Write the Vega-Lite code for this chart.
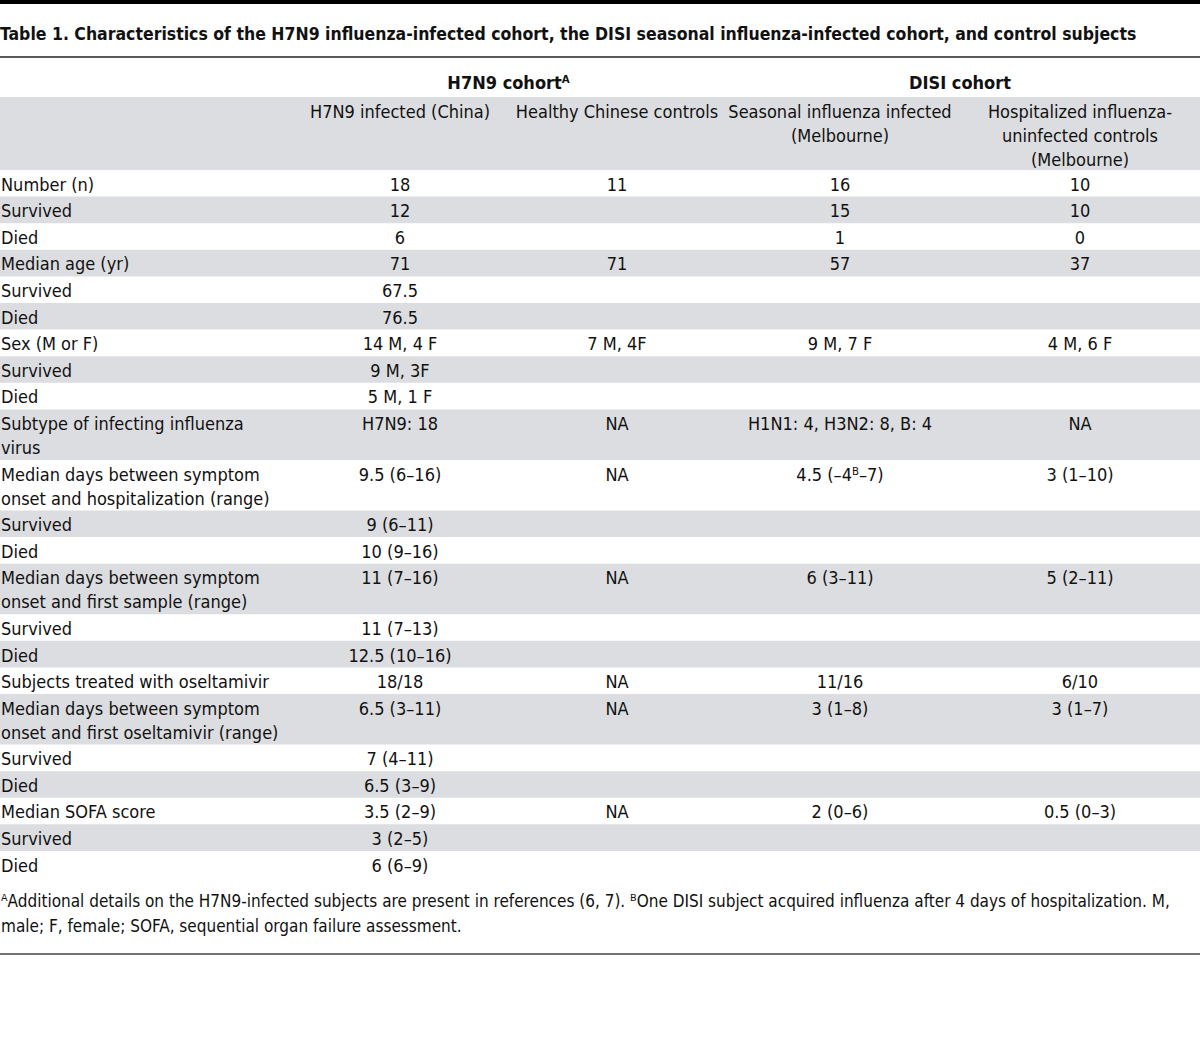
{
  "$schema": "https://vega.github.io/schema/vega-lite/v6.json",
  "width": 1200,
  "height": 1040,
  "autosize": {"type": "none"},
  "padding": 0,
  "background": "white",
  "config": {
    "view": {"stroke": null},
    "text": {"font": "Liberation Sans Narrow, DejaVu Sans Condensed, sans-serif", "fontSize": 18, "color": "#111111"}
  },
  "datasets": {
    "body": [
      {"row": 1, "label": "Number (n)", "a": "18", "b": "11", "c": "16", "d": "10"},
      {"row": 2, "label": "Survived", "a": "12", "b": "", "c": "15", "d": "10"},
      {"row": 3, "label": "Died", "a": "6", "b": "", "c": "1", "d": "0"},
      {"row": 4, "label": "Median age (yr)", "a": "71", "b": "71", "c": "57", "d": "37"},
      {"row": 5, "label": "Survived", "a": "67.5", "b": "", "c": "", "d": ""},
      {"row": 6, "label": "Died", "a": "76.5", "b": "", "c": "", "d": ""},
      {"row": 7, "label": "Sex (M or F)", "a": "14 M, 4 F", "b": "7 M, 4F", "c": "9 M, 7 F", "d": "4 M, 6 F"},
      {"row": 8, "label": "Survived", "a": "9 M, 3F", "b": "", "c": "", "d": ""},
      {"row": 9, "label": "Died", "a": "5 M, 1 F", "b": "", "c": "", "d": ""},
      {"row": 10, "label": "Subtype of infecting influenza\nvirus", "a": "H7N9: 18", "b": "NA", "c": "H1N1: 4, H3N2: 8, B: 4", "d": "NA"},
      {"row": 11, "label": "Median days between symptom\nonset and hospitalization (range)", "a": "9.5 (6–16)", "b": "NA", "c": "4.5 (–4ᴮ–7)", "d": "3 (1–10)"},
      {"row": 12, "label": "Survived", "a": "9 (6–11)", "b": "", "c": "", "d": ""},
      {"row": 13, "label": "Died", "a": "10 (9–16)", "b": "", "c": "", "d": ""},
      {"row": 14, "label": "Median days between symptom\nonset and first sample (range)", "a": "11 (7–16)", "b": "NA", "c": "6 (3–11)", "d": "5 (2–11)"},
      {"row": 15, "label": "Survived", "a": "11 (7–13)", "b": "", "c": "", "d": ""},
      {"row": 16, "label": "Died", "a": "12.5 (10–16)", "b": "", "c": "", "d": ""},
      {"row": 17, "label": "Subjects treated with oseltamivir", "a": "18/18", "b": "NA", "c": "11/16", "d": "6/10"},
      {"row": 18, "label": "Median days between symptom\nonset and first oseltamivir (range)", "a": "6.5 (3–11)", "b": "NA", "c": "3 (1–8)", "d": "3 (1–7)"},
      {"row": 19, "label": "Survived", "a": "7 (4–11)", "b": "", "c": "", "d": ""},
      {"row": 20, "label": "Died", "a": "6.5 (3–9)", "b": "", "c": "", "d": ""},
      {"row": 21, "label": "Median SOFA score", "a": "3.5 (2–9)", "b": "NA", "c": "2 (0–6)", "d": "0.5 (0–3)"},
      {"row": 22, "label": "Survived", "a": "3 (2–5)", "b": "", "c": "", "d": ""},
      {"row": 23, "label": "Died", "a": "6 (6–9)", "b": "", "c": "", "d": ""}
    ],
    "groups": [
      {"g": "H7N9 cohortᴬ", "c": 1.5},
      {"g": "DISI cohort", "c": 3.5}
    ],
    "heads": [
      {"h": "H7N9 infected (China)", "c": 1},
      {"h": "Healthy Chinese controls", "c": 2},
      {"h": "Seasonal influenza infected\n(Melbourne)", "c": 3},
      {"h": "Hospitalized influenza-\nuninfected controls\n(Melbourne)", "c": 4}
    ],
    "title": [
      {"t": "Table 1. Characteristics of the H7N9 influenza-infected cohort, the DISI seasonal influenza-infected cohort, and control subjects"}
    ],
    "notes": [
      {"f": "ᴬAdditional details on the H7N9-infected subjects are present in references (6, 7). ᴮOne DISI subject acquired influenza after 4 days of hospitalization. M,\nmale; F, female; SOFA, sequential organ failure assessment."}
    ]
  },
  "layer": [
    {
      "data": {"values": [{}]},
      "mark": {"type": "rule", "strokeWidth": 4, "color": "#000000"},
      "encoding": {
        "y": {"datum": -6.316, "type": "quantitative", "scale": {"domain": [-6.391, 32.707], "reverse": true, "nice": false, "zero": false}, "axis": null}
      }
    },
    {
      "data": {"name": "title"},
      "mark": {"type": "text", "align": "left", "baseline": "alphabetic", "fontWeight": "bold", "fontSize": 17.5},
      "encoding": {
        "x": {"datum": 0, "type": "quantitative", "scale": {"domain": [0, 1, 2, 3, 4, 5], "range": [0, 400, 617, 840, 1080, 1200], "nice": false, "zero": false}, "axis": null},
        "y": {"datum": -4.887, "type": "quantitative", "scale": {"domain": [-6.391, 32.707], "reverse": true, "nice": false, "zero": false}, "axis": null},
        "text": {"field": "t"}
      }
    },
    {
      "data": {"values": [{}]},
      "mark": {"type": "rule", "strokeWidth": 1.5, "color": "#222222"},
      "encoding": {
        "y": {"datum": -4.248, "type": "quantitative", "scale": {"domain": [-6.391, 32.707], "reverse": true, "nice": false, "zero": false}, "axis": null}
      }
    },
    {
      "data": {"name": "groups"},
      "mark": {"type": "text", "align": "center", "baseline": "alphabetic", "fontWeight": "bold"},
      "encoding": {
        "x": {"field": "c", "type": "quantitative", "scale": {"domain": [0, 1, 2, 3, 4, 5], "range": [0, 400, 617, 840, 1080, 1200], "nice": false, "zero": false}, "axis": null},
        "y": {"datum": -3.045, "type": "quantitative", "scale": {"domain": [-6.391, 32.707], "reverse": true, "nice": false, "zero": false}, "axis": null},
        "text": {"field": "g"}
      }
    },
    {
      "data": {"values": [{}]},
      "mark": {"type": "rect", "color": "#dcdde0"},
      "encoding": {
        "x": {"datum": 0, "type": "quantitative", "scale": {"domain": [0, 1, 2, 3, 4, 5], "range": [0, 400, 617, 840, 1080, 1200], "nice": false, "zero": false}, "axis": null},
        "x2": {"datum": 5},
        "y": {"datum": -2.744, "type": "quantitative", "scale": {"domain": [-6.391, 32.707], "reverse": true, "nice": false, "zero": false}, "axis": null},
        "y2": {"datum": 0}
      }
    },
    {
      "data": {"name": "heads"},
      "mark": {"type": "text", "align": "center", "baseline": "alphabetic", "lineBreak": "\n", "lineHeight": 24},
      "encoding": {
        "x": {"field": "c", "type": "quantitative", "scale": {"domain": [0, 1, 2, 3, 4, 5], "range": [0, 400, 617, 840, 1080, 1200], "nice": false, "zero": false}, "axis": null},
        "y": {"datum": -1.955, "type": "quantitative", "scale": {"domain": [-6.391, 32.707], "reverse": true, "nice": false, "zero": false}, "axis": null},
        "text": {"field": "h"}
      }
    },
    {
      "data": {"name": "body"},
      "transform": [
        {"calculate": "test(/\\n/, datum.label) ? 1.9 : 1", "as": "n"},
        {"window": [{"op": "sum", "field": "n", "as": "yEnd"}], "sort": [{"field": "row"}], "frame": [null, 0]},
        {"calculate": "datum.yEnd - datum.n", "as": "yStart"},
        {"filter": "datum.row % 2 == 0"}
      ],
      "mark": {"type": "rect", "color": "#dcdde0"},
      "encoding": {
        "x": {"datum": 0, "type": "quantitative", "scale": {"domain": [0, 1, 2, 3, 4, 5], "range": [0, 400, 617, 840, 1080, 1200], "nice": false, "zero": false}, "axis": null},
        "x2": {"datum": 5},
        "y": {"field": "yStart", "type": "quantitative", "scale": {"domain": [-6.391, 32.707], "reverse": true, "nice": false, "zero": false}, "axis": null},
        "y2": {"field": "yEnd"}
      }
    },
    {
      "data": {"name": "body"},
      "transform": [
        {"calculate": "test(/\\n/, datum.label) ? 1.9 : 1", "as": "n"},
        {"window": [{"op": "sum", "field": "n", "as": "yEnd"}], "sort": [{"field": "row"}], "frame": [null, 0]},
        {"calculate": "datum.yEnd - datum.n", "as": "yStart"}
      ],
      "mark": {"type": "text", "align": "left", "baseline": "alphabetic", "lineBreak": "\n", "lineHeight": 24, "dx": 1, "dy": 20.7},
      "encoding": {
        "x": {"datum": 0, "type": "quantitative", "scale": {"domain": [0, 1, 2, 3, 4, 5], "range": [0, 400, 617, 840, 1080, 1200], "nice": false, "zero": false}, "axis": null},
        "y": {"field": "yStart", "type": "quantitative", "scale": {"domain": [-6.391, 32.707], "reverse": true, "nice": false, "zero": false}, "axis": null},
        "text": {"field": "label"}
      }
    },
    {
      "data": {"name": "body"},
      "transform": [
        {"calculate": "test(/\\n/, datum.label) ? 1.9 : 1", "as": "n"},
        {"window": [{"op": "sum", "field": "n", "as": "yEnd"}], "sort": [{"field": "row"}], "frame": [null, 0]},
        {"calculate": "datum.yEnd - datum.n", "as": "yStart"},
        {"fold": ["a", "b", "c", "d"], "as": ["key", "value"]},
        {"filter": "datum.value != ''"},
        {"calculate": "indexof(['a','b','c','d'], datum.key) + 1", "as": "ci"}
      ],
      "mark": {"type": "text", "align": "center", "baseline": "alphabetic", "dy": 20.7},
      "encoding": {
        "x": {"field": "ci", "type": "quantitative", "scale": {"domain": [0, 1, 2, 3, 4, 5], "range": [0, 400, 617, 840, 1080, 1200], "nice": false, "zero": false}, "axis": null},
        "y": {"field": "yStart", "type": "quantitative", "scale": {"domain": [-6.391, 32.707], "reverse": true, "nice": false, "zero": false}, "axis": null},
        "text": {"field": "value"}
      }
    },
    {
      "data": {"name": "notes"},
      "mark": {"type": "text", "align": "left", "baseline": "alphabetic", "lineBreak": "\n", "lineHeight": 25, "fontSize": 17, "dx": 1},
      "encoding": {
        "x": {"datum": 0, "type": "quantitative", "scale": {"domain": [0, 1, 2, 3, 4, 5], "range": [0, 400, 617, 840, 1080, 1200], "nice": false, "zero": false}, "axis": null},
        "y": {"datum": 27.707, "type": "quantitative", "scale": {"domain": [-6.391, 32.707], "reverse": true, "nice": false, "zero": false}, "axis": null},
        "text": {"field": "f"}
      }
    },
    {
      "data": {"values": [{}]},
      "mark": {"type": "rule", "strokeWidth": 1.5, "color": "#444444"},
      "encoding": {
        "y": {"datum": 29.474, "type": "quantitative", "scale": {"domain": [-6.391, 32.707], "reverse": true, "nice": false, "zero": false}, "axis": null}
      }
    }
  ]
}
